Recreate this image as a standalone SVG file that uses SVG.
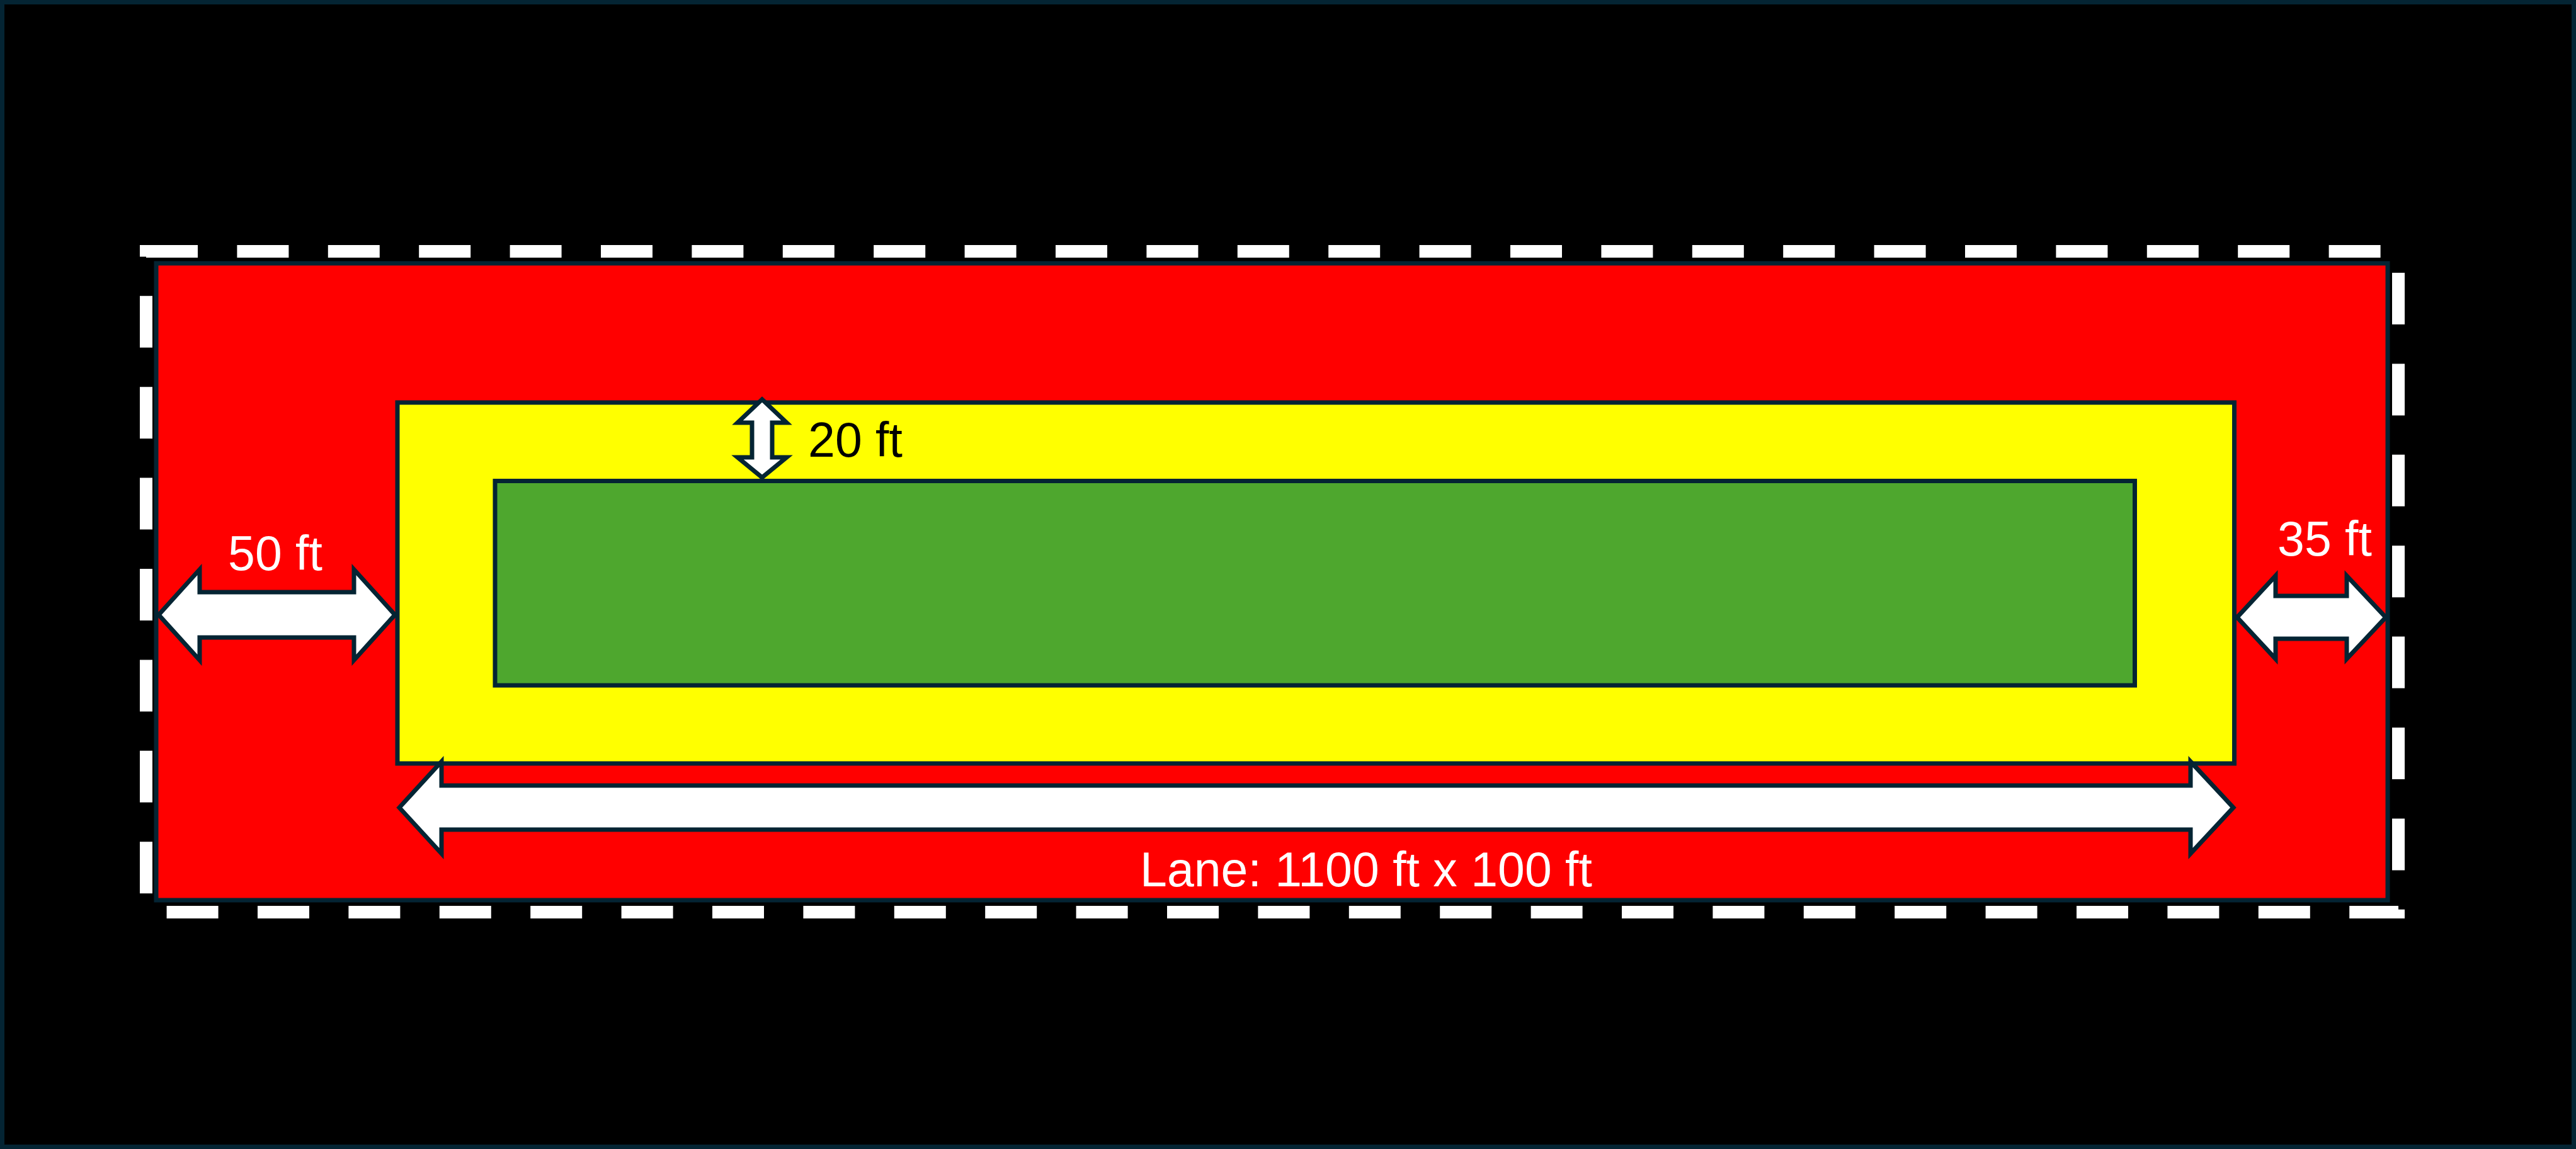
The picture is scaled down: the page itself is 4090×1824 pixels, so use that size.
<svg xmlns="http://www.w3.org/2000/svg" width="4090" height="1824" viewBox="0 0 4090 1824">
<style>
.zone{stroke:#042433;stroke-width:7}
.arrow{fill:#FFFFFF;stroke:#042433;stroke-width:7;stroke-linejoin:miter;stroke-miterlimit:10}
.lbl{font-family:"Liberation Sans",Arial,sans-serif;font-size:77px;text-anchor:middle}
.w{fill:#FFFFFF}
.k{fill:#000000}
</style>
<rect id="background" x="3.5" y="3.5" width="4083" height="1817" fill="#000000" stroke="#042433" stroke-width="7"/>
<g id="boundary">
<rect x="232" y="399" width="3576" height="1049" fill="none" stroke="#FFFFFF" stroke-width="20" stroke-dasharray="82 62.4"/>
</g>
<g id="red-zone">
<rect class="zone" x="248" y="418" width="3543" height="1011" fill="#FF0000"/>
</g>
<g id="yellow-zone">
<rect class="zone" x="631" y="639" width="2916.5" height="573" fill="#FFFF00"/>
</g>
<g id="green-zone">
<rect class="zone" x="786" y="763.5" width="2603.5" height="324.5" fill="#4EA72E"/>
</g>
<g id="connectors">
<polygon class="arrow" points="252,976 317,904 317,940 562,940 562,904 627,976 562,1048 562,1012 317,1012 317,1048"/>
<polygon class="arrow" points="3552,980 3613,914 3613,946 3726,946 3726,914 3788,980 3726,1046 3726,1014 3613,1014 3613,1046"/>
<polygon class="arrow" points="634,1282 701,1209 701,1247 3478,1247 3478,1209 3546,1282 3478,1355 3478,1317 701,1317 701,1355"/>
<polygon class="arrow" points="1210,634 1249,671 1226,671 1226,726 1249,726 1210,758 1171,726 1194,726 1194,671 1171,671"/>
</g>
<g id="labels">
<text class="lbl w" x="437" y="905">50 ft</text>
<text class="lbl w" x="3691" y="882">35 ft</text>
<text class="lbl k" x="1358" y="725">20 ft</text>
<text class="lbl w" x="2169" y="1407">Lane: 1100 ft x 100 ft</text>
</g>
</svg>
